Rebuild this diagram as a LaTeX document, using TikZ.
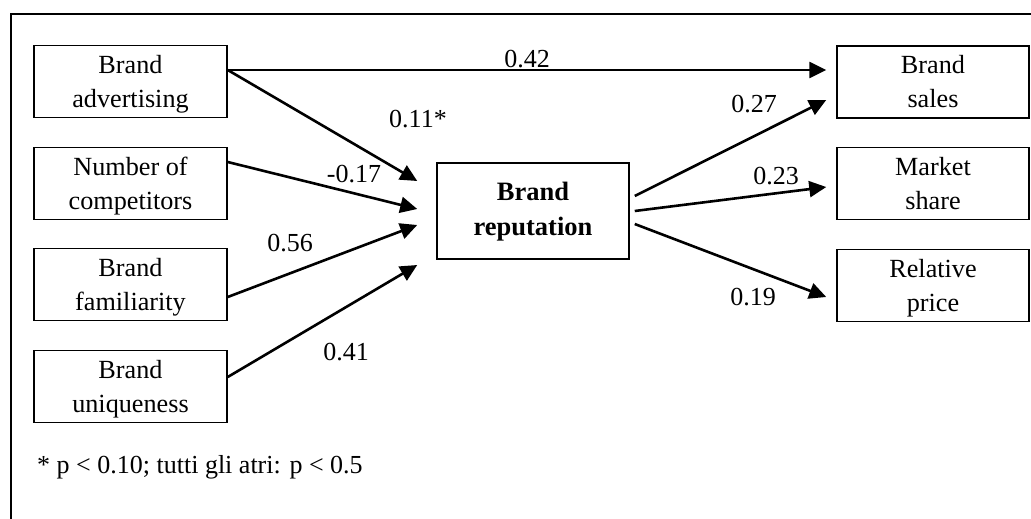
\documentclass[tikz,border=0pt]{standalone}
\usepackage{fontspec}
\setmainfont{Liberation Serif}
\usetikzlibrary{arrows.meta}
% two centred lines whose baseline is that of the first line
\newcommand\twolines[2]{\begin{tabular}[t]{@{}c@{}}#1\\#2\end{tabular}}
\begin{document}
\begin{tikzpicture}[x=1pt,y=-1pt,
  box/.style={draw, line width=1.5pt, minimum width=193pt, minimum height=72pt, inner sep=0pt},
  bigbox/.style={box, minimum width=192pt, minimum height=96pt},
  caption/.style={anchor=base, inner sep=0pt, font=\fontsize{26.2}{34}\selectfont},
  bigcaption/.style={anchor=base, inner sep=0pt, font=\fontsize{26.5}{35}\selectfont\bfseries},
  coef/.style={anchor=base, inner sep=0pt, font=\fontsize{26}{30}\selectfont},
  link/.style={line width=2.6pt, -{Triangle[length=17pt,width=16pt]}}]
\useasboundingbox (0,0) rectangle (1031,519);
\clip (0,0) rectangle (1031,519);
% outer frame (runs off the right and bottom edges)
\draw[line width=1.6pt] (1045,14) -- (11,14) -- (11,535);

% antecedents
\node[box] (adv)  at (130.5,81.5)  {};
\node[box] (comp) at (130.5,183.5) {};
\node[box] (fam)  at (130.5,284.5) {};
\node[box] (uniq) at (130.5,386.5) {};
\node[caption] (advT)  at (130.5,73.5)  {\twolines{Brand}{advertising}};
\node[caption] (compT) at (130.5,175.5) {\twolines{Number of}{competitors}};
\node[caption] (famT)  at (130.5,276.5) {\twolines{Brand}{familiarity}};
\node[caption] (uniqT) at (130.5,378)   {\twolines{Brand}{uniqueness}};

% mediator
\node[bigbox] (rep) at (533,211) {};
\node[bigcaption] (repT) at (533,200) {\twolines{Brand}{reputation}};

% outcomes
\node[box, minimum width=192pt] (sales) at (933,82)    {};
\node[box, minimum width=192pt] (share) at (933,183.5) {};
\node[box, minimum width=192pt] (price) at (933,285.5) {};
\node[caption] (salesT) at (933,74)    {\twolines{Brand}{sales}};
\node[caption] (shareT) at (933,175.5) {\twolines{Market}{share}};
\node[caption] (priceT) at (933,277.5) {\twolines{Relative}{price}};

% paths
\draw[link] ([yshift=11.5pt]adv.east) -- ([xshift=-10pt,yshift=12pt]sales.west);
\draw[link] ([yshift=11.5pt]adv.east) -- ([xshift=-19pt,yshift=30pt]rep.west);
\draw[link] ([yshift=21.5pt]comp.east) -- ([xshift=-19pt,yshift=2pt]rep.west);
\draw[link] ([yshift=-12.5pt]fam.east) -- ([xshift=-19pt,yshift=-14pt]rep.west);
\draw[link] ([yshift=9.5pt]uniq.east) -- ([xshift=-19pt,yshift=-54pt]rep.west);
\draw[link] ([xshift=5pt,yshift=15pt]rep.east) -- ([xshift=-10pt,yshift=-18pt]sales.west);
\draw[link] ([xshift=5pt]rep.east) -- ([xshift=-10pt,yshift=-3.5pt]share.west);
\draw[link] ([xshift=5pt,yshift=-13pt]rep.east) -- ([xshift=-10pt,yshift=-11.5pt]price.west);

% coefficients
\node[coef] (c1) at (527,67)  {0.42};
\node[coef] (c2) at (418,127) {0.11*};
\node[coef] (c3) at (354,182) {-0.17};
\node[coef] (c4) at (290,251) {0.56};
\node[coef] (c5) at (346,360) {0.41};
\node[coef] (c6) at (754,112) {0.27};
\node[coef] (c7) at (776,184) {0.23};
\node[coef] (c8) at (753,305) {0.19};

% note
\node[coef, anchor=base west] (note) at (37,473) {* p < 0.10; tutti gli atri: p < 0.5};
\end{tikzpicture}
\end{document}
